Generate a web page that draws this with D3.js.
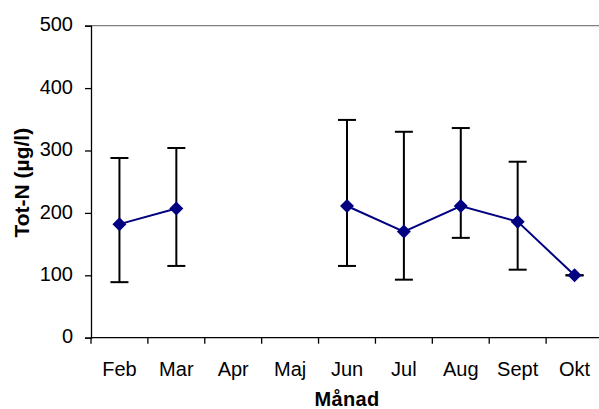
<!DOCTYPE html>
<html>
<head>
<meta charset="utf-8">
<script src="https://cdn.jsdelivr.net/npm/d3@7"></script>
<style>
  html, body { margin: 0; padding: 0; background: #fff; }
  svg { display: block; font-family: "Liberation Sans", Arial, sans-serif; }
</style>
</head>
<body>
<svg id="chart" width="599" height="409"></svg>
<script>
// Monthly total nitrogen: mean with min/max range
const months = ["Feb", "Mar", "Apr", "Maj", "Jun", "Jul", "Aug", "Sept", "Okt"];
const meanValues = [182, 207, null, null, 211, 170, 211, 186, 100];
const upperValues = [288, 304, null, null, 349, 330, 336, 282, 100];
const lowerValues = [89, 115, null, null, 115, 93, 160, 109, 100];
const yTicks = [0, 100, 200, 300, 400, 500];

const svg = d3.select("#chart");
const plotLeft = 91, plotTop = 25.7, plotBottom = 337.7, plotRight = 603;

const x = d3.scaleBand().domain(months).range([plotLeft, plotRight]).paddingInner(0).paddingOuter(0);
const y = d3.scaleLinear().domain([0, 500]).range([plotBottom, plotTop]);

const rows = months.map((m, i) => ({
  month: m, mean: meanValues[i], hi: upperValues[i], lo: lowerValues[i]
}));

// top frame line of the plot area
svg.append("line")
  .attr("x1", plotLeft).attr("x2", 599)
  .attr("y1", plotTop).attr("y2", plotTop)
  .attr("stroke", "#808080").attr("stroke-width", 1.3);

// y axis
const yAxis = svg.append("g")
  .attr("transform", `translate(${plotLeft},0)`)
  .call(d3.axisLeft(y).tickValues(yTicks).tickSize(6).tickPadding(12).tickFormat(d3.format("d")));
yAxis.select(".domain").attr("stroke", "#000").attr("stroke-width", 1.3);
yAxis.selectAll(".tick line").attr("stroke", "#000").attr("stroke-width", 1.3);
yAxis.selectAll(".tick text")
  .attr("font-size", 20).attr("fill", "#000")
  .attr("font-family", "'Liberation Sans', Arial, sans-serif")
  .attr("dy", "0.26em");

// x axis: ticks between categories
const xAxis = svg.append("g").attr("transform", `translate(0,${plotBottom})`);
xAxis.append("line")
  .attr("x1", plotLeft).attr("x2", plotRight)
  .attr("stroke", "#000").attr("stroke-width", 1.3);
const boundaries = months.map(m => x(m)).concat([plotRight]);
xAxis.selectAll("line.tick").data(boundaries).join("line")
  .attr("class", "tick")
  .attr("x1", d => d).attr("x2", d => d)
  .attr("y1", 0).attr("y2", 6)
  .attr("stroke", "#000").attr("stroke-width", 1.3);
xAxis.selectAll("text").data(months).join("text")
  .attr("x", d => x(d) + x.bandwidth() / 2)
  .attr("y", 38.5)
  .attr("text-anchor", "middle")
  .attr("font-size", 20)
  .attr("fill", "#000")
  .text(d => d);

// axis titles
svg.append("text")
  .attr("x", 347).attr("y", 406)
  .attr("text-anchor", "middle")
  .attr("font-size", 20).attr("font-weight", "bold")
  .attr("letter-spacing", 0.3)
  .text("Månad");
svg.append("text")
  .attr("transform", `translate(29,${(plotTop + plotBottom) / 2 + 1}) rotate(-90)`)
  .attr("text-anchor", "middle")
  .attr("font-size", 21).attr("font-weight", "bold")
  .text("Tot-N (µg/l)");

const cx = d => x(d.month) + x.bandwidth() / 2;
const withData = rows.filter(d => d.mean != null);

// error bars
const cap = 9;
const eb = svg.append("g").attr("stroke", "#000").attr("stroke-width", 2);
eb.selectAll("line.v").data(withData).join("line").attr("class", "v")
  .attr("x1", cx).attr("x2", cx)
  .attr("y1", d => y(d.hi)).attr("y2", d => y(d.lo));
eb.selectAll("line.hi").data(withData).join("line").attr("class", "hi")
  .attr("x1", d => cx(d) - cap).attr("x2", d => cx(d) + cap)
  .attr("y1", d => y(d.hi)).attr("y2", d => y(d.hi));
eb.selectAll("line.lo").data(withData).join("line").attr("class", "lo")
  .attr("x1", d => cx(d) - cap).attr("x2", d => cx(d) + cap)
  .attr("y1", d => y(d.lo)).attr("y2", d => y(d.lo));

// mean line, broken where months have no samples
const line = d3.line()
  .defined(d => d.mean != null)
  .x(cx).y(d => y(d.mean));
svg.append("path")
  .datum(rows)
  .attr("d", line)
  .attr("fill", "none")
  .attr("stroke", "#000080")
  .attr("stroke-width", 2);

// diamond markers
const diamond = d3.symbol().type(d3.symbolSquare).size(98);
svg.selectAll("path.marker").data(withData).join("path")
  .attr("class", "marker")
  .attr("d", diamond)
  .attr("transform", d => `translate(${cx(d)},${y(d.mean)}) rotate(45)`)
  .attr("fill", "#000080");
</script>
</body>
</html>
